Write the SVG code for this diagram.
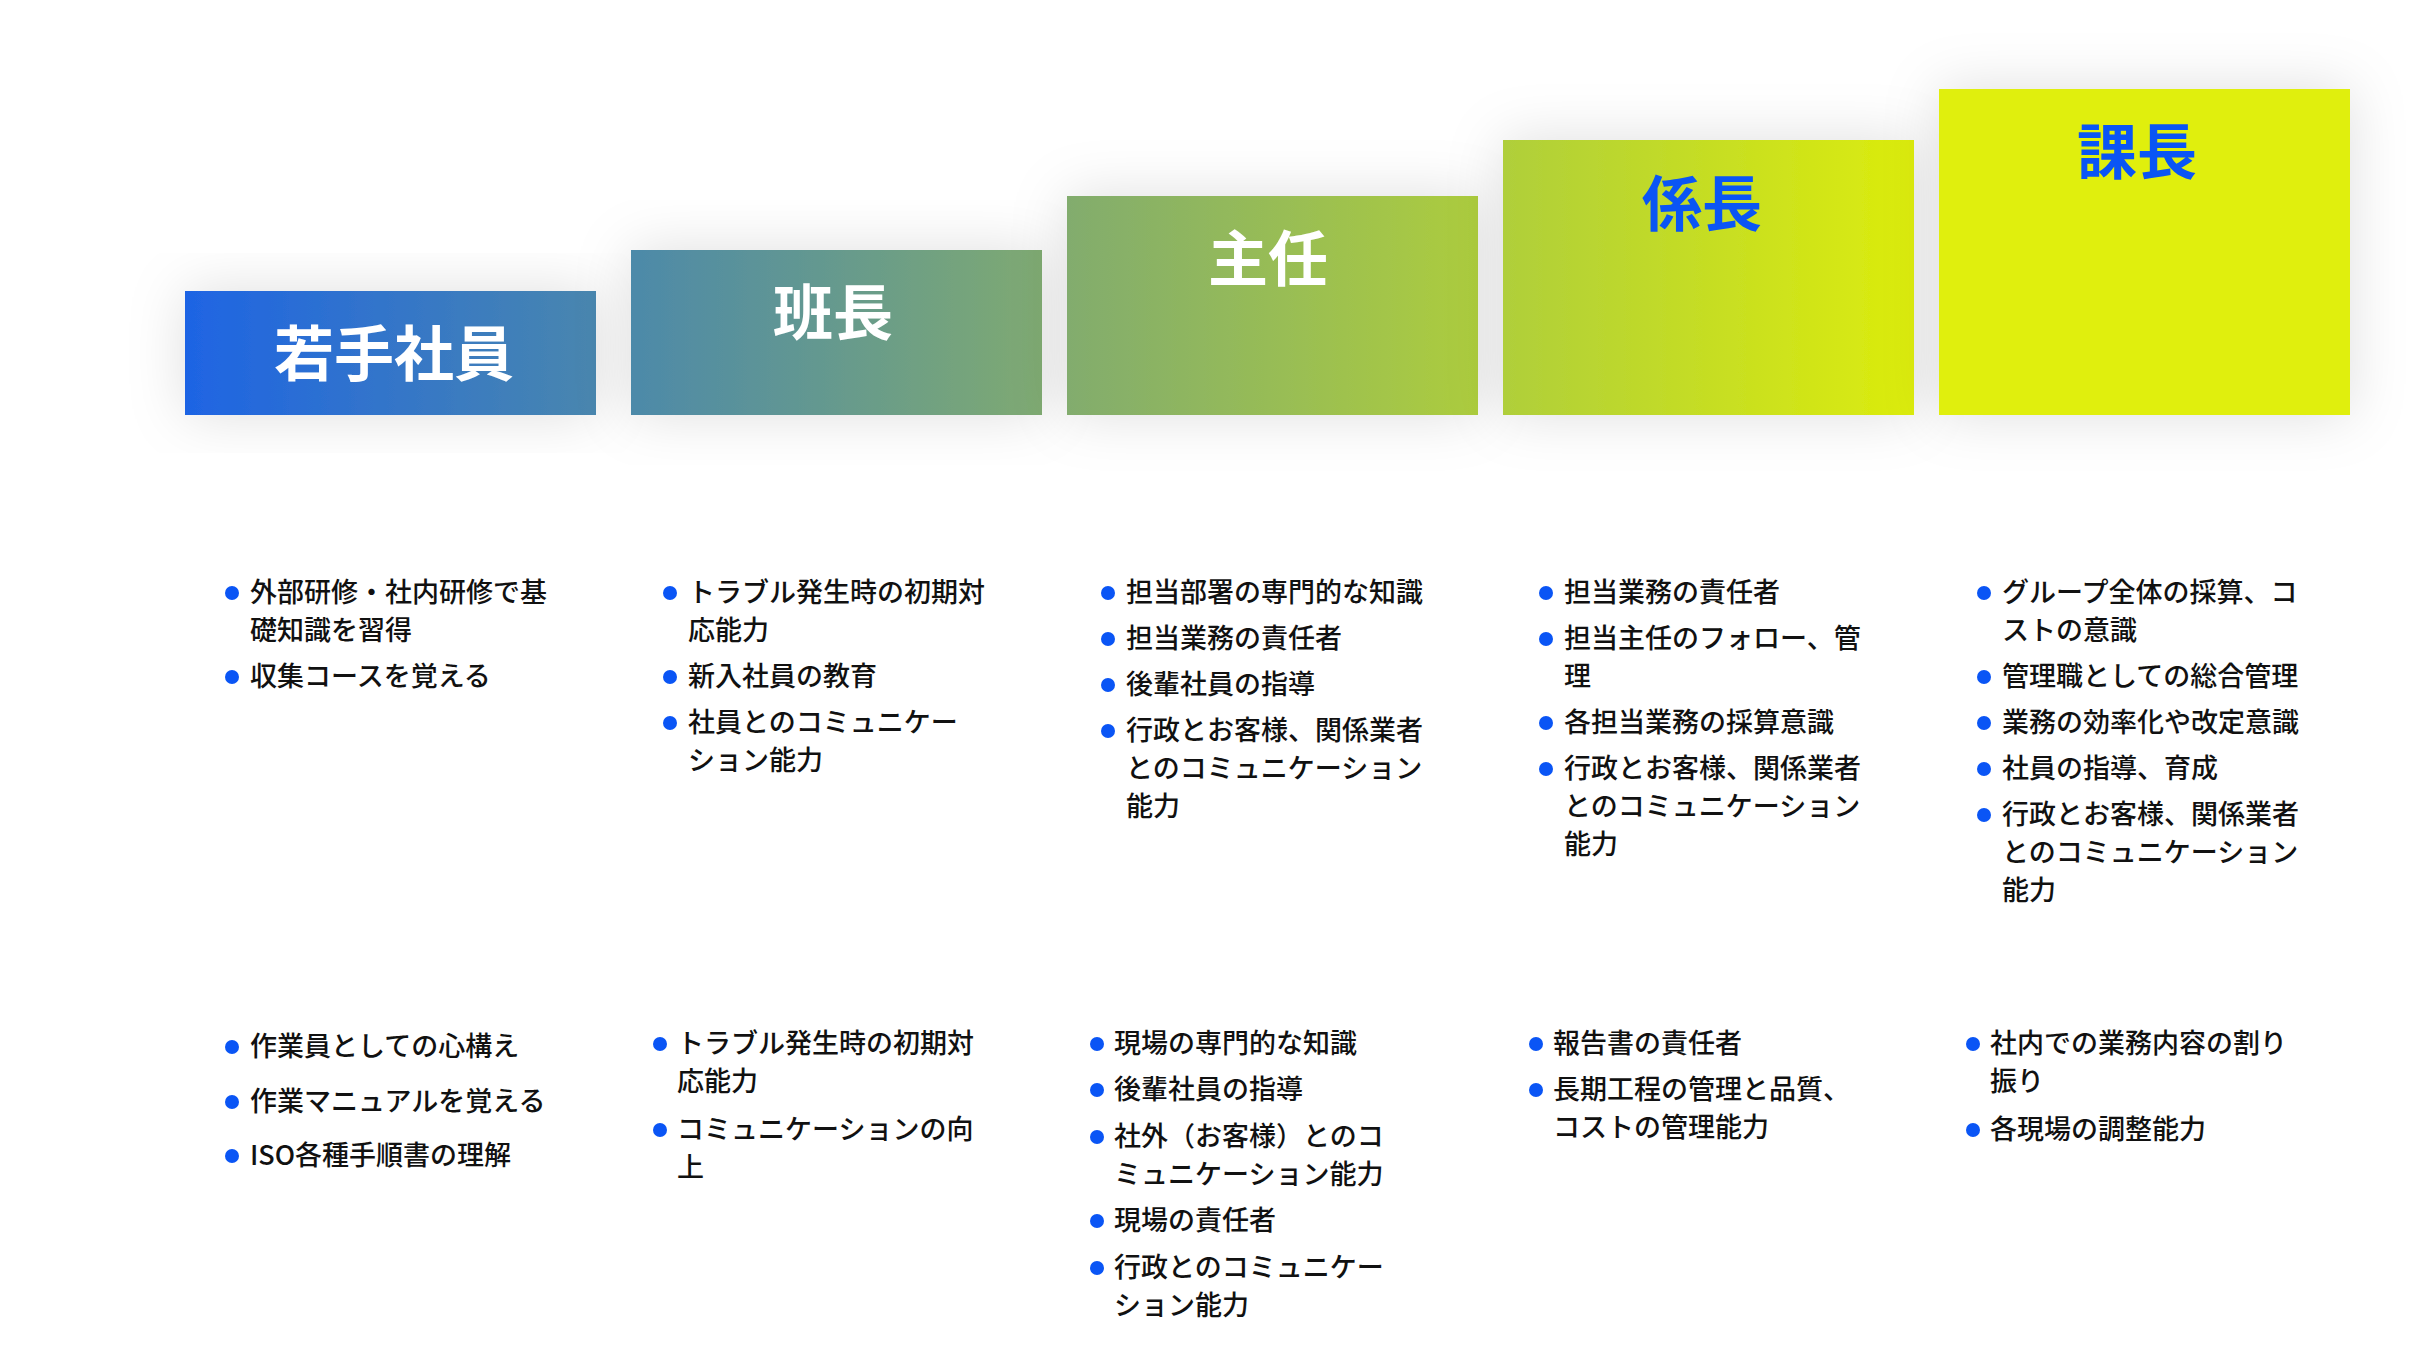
<svg xmlns="http://www.w3.org/2000/svg" width="2428" height="1356" viewBox="0 0 2428 1356">
<defs>
<linearGradient id="g" gradientUnits="userSpaceOnUse" x1="185" y1="0" x2="1950" y2="0">
<stop offset="0" stop-color="#1e64e4"/>
<stop offset="0.25" stop-color="#4c89aa"/>
<stop offset="0.5" stop-color="#82ac6e"/>
<stop offset="0.75" stop-color="#b0cf3a"/>
<stop offset="1" stop-color="#e0ef08"/>
</linearGradient>
<filter id="sh" x="-30%" y="-30%" width="160%" height="160%">
<feDropShadow dx="0" dy="0" stdDeviation="28" flood-color="#000" flood-opacity="0.13"/>
</filter>
<style>
.box{fill:url(#g);filter:url(#sh)}
.t{font-family:"Noto Sans CJK JP","Noto Sans",sans-serif;font-weight:700;font-size:60px;text-anchor:middle}
.w{fill:#fff}.b{fill:#0a55f5}
.i{font-family:"Noto Sans CJK JP","Noto Sans",sans-serif;font-weight:500;font-size:27px;fill:#111}
.d{fill:#0a55f5}
</style>
</defs>
<rect width="2428" height="1356" fill="#fff"/>
<g id="n1"><rect class="box" x="185" y="291" width="411" height="124"/><text class="t w" x="394" y="376">若手社員</text></g>
<g id="n2"><rect class="box" x="631" y="250" width="411" height="165"/><text class="t w" x="833" y="335">班長</text></g>
<g id="n3"><rect class="box" x="1067" y="196" width="411" height="219"/><text class="t w" x="1268" y="281">主任</text></g>
<g id="n4"><rect class="box" x="1503" y="140" width="411" height="275"/><text class="t b" x="1702" y="226">係長</text></g>
<g id="n5"><rect x="1939" y="89" width="411" height="326" fill="#e0ef08" filter="url(#sh)"/><text class="t b" x="2137" y="174">課長</text></g>
<g id="connectors"></g>
<g id="u1" class="i">
<circle class="d" cx="232" cy="593" r="7"/><text x="250" y="602">外部研修・社内研修で基</text><text x="250" y="640">礎知識を習得</text>
<circle class="d" cx="232" cy="677" r="7"/><text x="250" y="686">収集コースを覚える</text>
</g>
<g id="u2" class="i">
<circle class="d" cx="670" cy="593" r="7"/><text x="688" y="602">トラブル発生時の初期対</text><text x="688" y="640">応能力</text>
<circle class="d" cx="670" cy="677" r="7"/><text x="688" y="686">新入社員の教育</text>
<circle class="d" cx="670" cy="723" r="7"/><text x="688" y="732">社員とのコミュニケー</text><text x="688" y="770">ション能力</text>
</g>
<g id="u3" class="i">
<circle class="d" cx="1108" cy="593" r="7"/><text x="1126" y="602">担当部署の専門的な知識</text>
<circle class="d" cx="1108" cy="639" r="7"/><text x="1126" y="648">担当業務の責任者</text>
<circle class="d" cx="1108" cy="685" r="7"/><text x="1126" y="694">後輩社員の指導</text>
<circle class="d" cx="1108" cy="731" r="7"/><text x="1126" y="740">行政とお客様、関係業者</text><text x="1126" y="778">とのコミュニケーション</text><text x="1126" y="816">能力</text>
</g>
<g id="u4" class="i">
<circle class="d" cx="1546" cy="593" r="7"/><text x="1564" y="602">担当業務の責任者</text>
<circle class="d" cx="1546" cy="639" r="7"/><text x="1564" y="648">担当主任のフォロー、管</text><text x="1564" y="686">理</text>
<circle class="d" cx="1546" cy="723" r="7"/><text x="1564" y="732">各担当業務の採算意識</text>
<circle class="d" cx="1546" cy="769" r="7"/><text x="1564" y="778">行政とお客様、関係業者</text><text x="1564" y="816">とのコミュニケーション</text><text x="1564" y="854">能力</text>
</g>
<g id="u5" class="i">
<circle class="d" cx="1984" cy="593" r="7"/><text x="2002" y="602">グループ全体の採算、コ</text><text x="2002" y="640">ストの意識</text>
<circle class="d" cx="1984" cy="677" r="7"/><text x="2002" y="686">管理職としての総合管理</text>
<circle class="d" cx="1984" cy="723" r="7"/><text x="2002" y="732">業務の効率化や改定意識</text>
<circle class="d" cx="1984" cy="769" r="7"/><text x="2002" y="778">社員の指導、育成</text>
<circle class="d" cx="1984" cy="815" r="7"/><text x="2002" y="824">行政とお客様、関係業者</text><text x="2002" y="862">とのコミュニケーション</text><text x="2002" y="900">能力</text>
</g>
<g id="l1" class="i">
<circle class="d" cx="232" cy="1047" r="7"/><text x="250" y="1056">作業員としての心構え</text>
<circle class="d" cx="232" cy="1102" r="7"/><text x="250" y="1111">作業マニュアルを覚える</text>
<circle class="d" cx="232" cy="1156" r="7"/><text x="250" y="1165">ISO各種手順書の理解</text>
</g>
<g id="l2" class="i">
<circle class="d" cx="660" cy="1044" r="7"/><text x="677" y="1053">トラブル発生時の初期対</text><text x="677" y="1091">応能力</text>
<circle class="d" cx="660" cy="1130" r="7"/><text x="677" y="1139">コミュニケーションの向</text><text x="677" y="1177">上</text>
</g>
<g id="l3" class="i">
<circle class="d" cx="1097" cy="1044" r="7"/><text x="1114" y="1053">現場の専門的な知識</text>
<circle class="d" cx="1097" cy="1090" r="7"/><text x="1114" y="1099">後輩社員の指導</text>
<circle class="d" cx="1097" cy="1137" r="7"/><text x="1114" y="1146">社外（お客様）とのコ</text><text x="1114" y="1184">ミュニケーション能力</text>
<circle class="d" cx="1097" cy="1221" r="7"/><text x="1114" y="1230">現場の責任者</text>
<circle class="d" cx="1097" cy="1268" r="7"/><text x="1114" y="1277">行政とのコミュニケー</text><text x="1114" y="1315">ション能力</text>
</g>
<g id="l4" class="i">
<circle class="d" cx="1536" cy="1044" r="7"/><text x="1553" y="1053">報告書の責任者</text>
<circle class="d" cx="1536" cy="1090" r="7"/><text x="1553" y="1099">長期工程の管理と品質、</text><text x="1553" y="1137">コストの管理能力</text>
</g>
<g id="l5" class="i">
<circle class="d" cx="1973" cy="1044" r="7"/><text x="1990" y="1053">社内での業務内容の割り</text><text x="1990" y="1091">振り</text>
<circle class="d" cx="1973" cy="1130" r="7"/><text x="1990" y="1139">各現場の調整能力</text>
</g>
</svg>
